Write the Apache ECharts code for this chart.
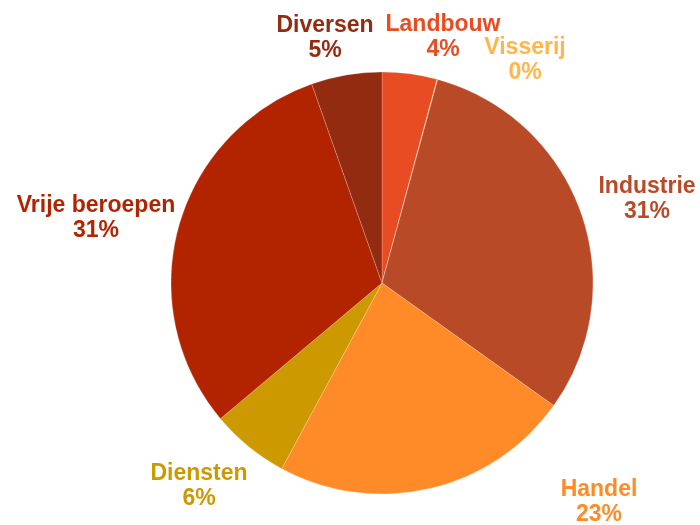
<!DOCTYPE html>
<html>
<head>
<meta charset="utf-8">
<script src="https://cdn.jsdelivr.net/npm/echarts@6/dist/echarts.min.js"></script>
<style>
  html, body { margin: 0; padding: 0; background: #fff; }
  #myChart { width: 700px; height: 525px; }
</style>
</head>
<body>
<div id="myChart"></div>
<script>
  // sectors, clockwise from 12 o'clock
  const categories = ['Landbouw', 'Visserij', 'Industrie', 'Handel', 'Diensten', 'Vrije beroepen', 'Diversen'];
  const shares = [4.2, 0.05, 30.6, 23.0, 6.0, 30.7, 5.4];
  const colors = ['#E84C22', '#FFB547', '#B84A28', '#FF8A28', '#CC9900', '#B22400', '#922B10'];

  // label spots as placed by hand in the original
  const labelPos = {
    'Landbouw': [443, 37],
    'Visserij': [525, 60],
    'Industrie': [647, 199],
    'Handel': [599, 502],
    'Diensten': [199, 486],
    'Vrije beroepen': [96, 218],
    'Diversen': [325, 38]
  };

  let myChart = echarts.init(document.getElementById('myChart'));
  let option = {
    animation: false,
    color: colors,
    series: [
      {
        type: 'pie',
        center: [382, 283],
        radius: [0, 211],
        startAngle: 90,
        clockwise: true,
        minAngle: 0,
        avoidLabelOverlap: false,
        itemStyle: {
          borderColor: 'rgba(255,255,255,0.35)',
          borderWidth: 0.6
        },
        label: {
          show: true,
          position: 'outside',
          fontFamily: 'Liberation Sans, Arial, sans-serif',
          fontWeight: 'bold',
          fontSize: 23,
          lineHeight: 25,
          color: 'inherit',
          formatter: function (p) {
            return p.name + '\n' + Math.round(p.percent) + '%';
          }
        },
        labelLine: { show: false },
        labelLayout: function (params) {
          const name = categories[params.dataIndex];
          const pos = labelPos[name];
          return { x: pos[0], y: pos[1], align: 'center', verticalAlign: 'middle' };
        },
        emphasis: { disabled: true },
        data: categories.map(function (c, i) {
          return { name: c, value: shares[i], label: { color: colors[i] } };
        })
      }
    ]
  };
  myChart.setOption(option);
</script>
</body>
</html>
